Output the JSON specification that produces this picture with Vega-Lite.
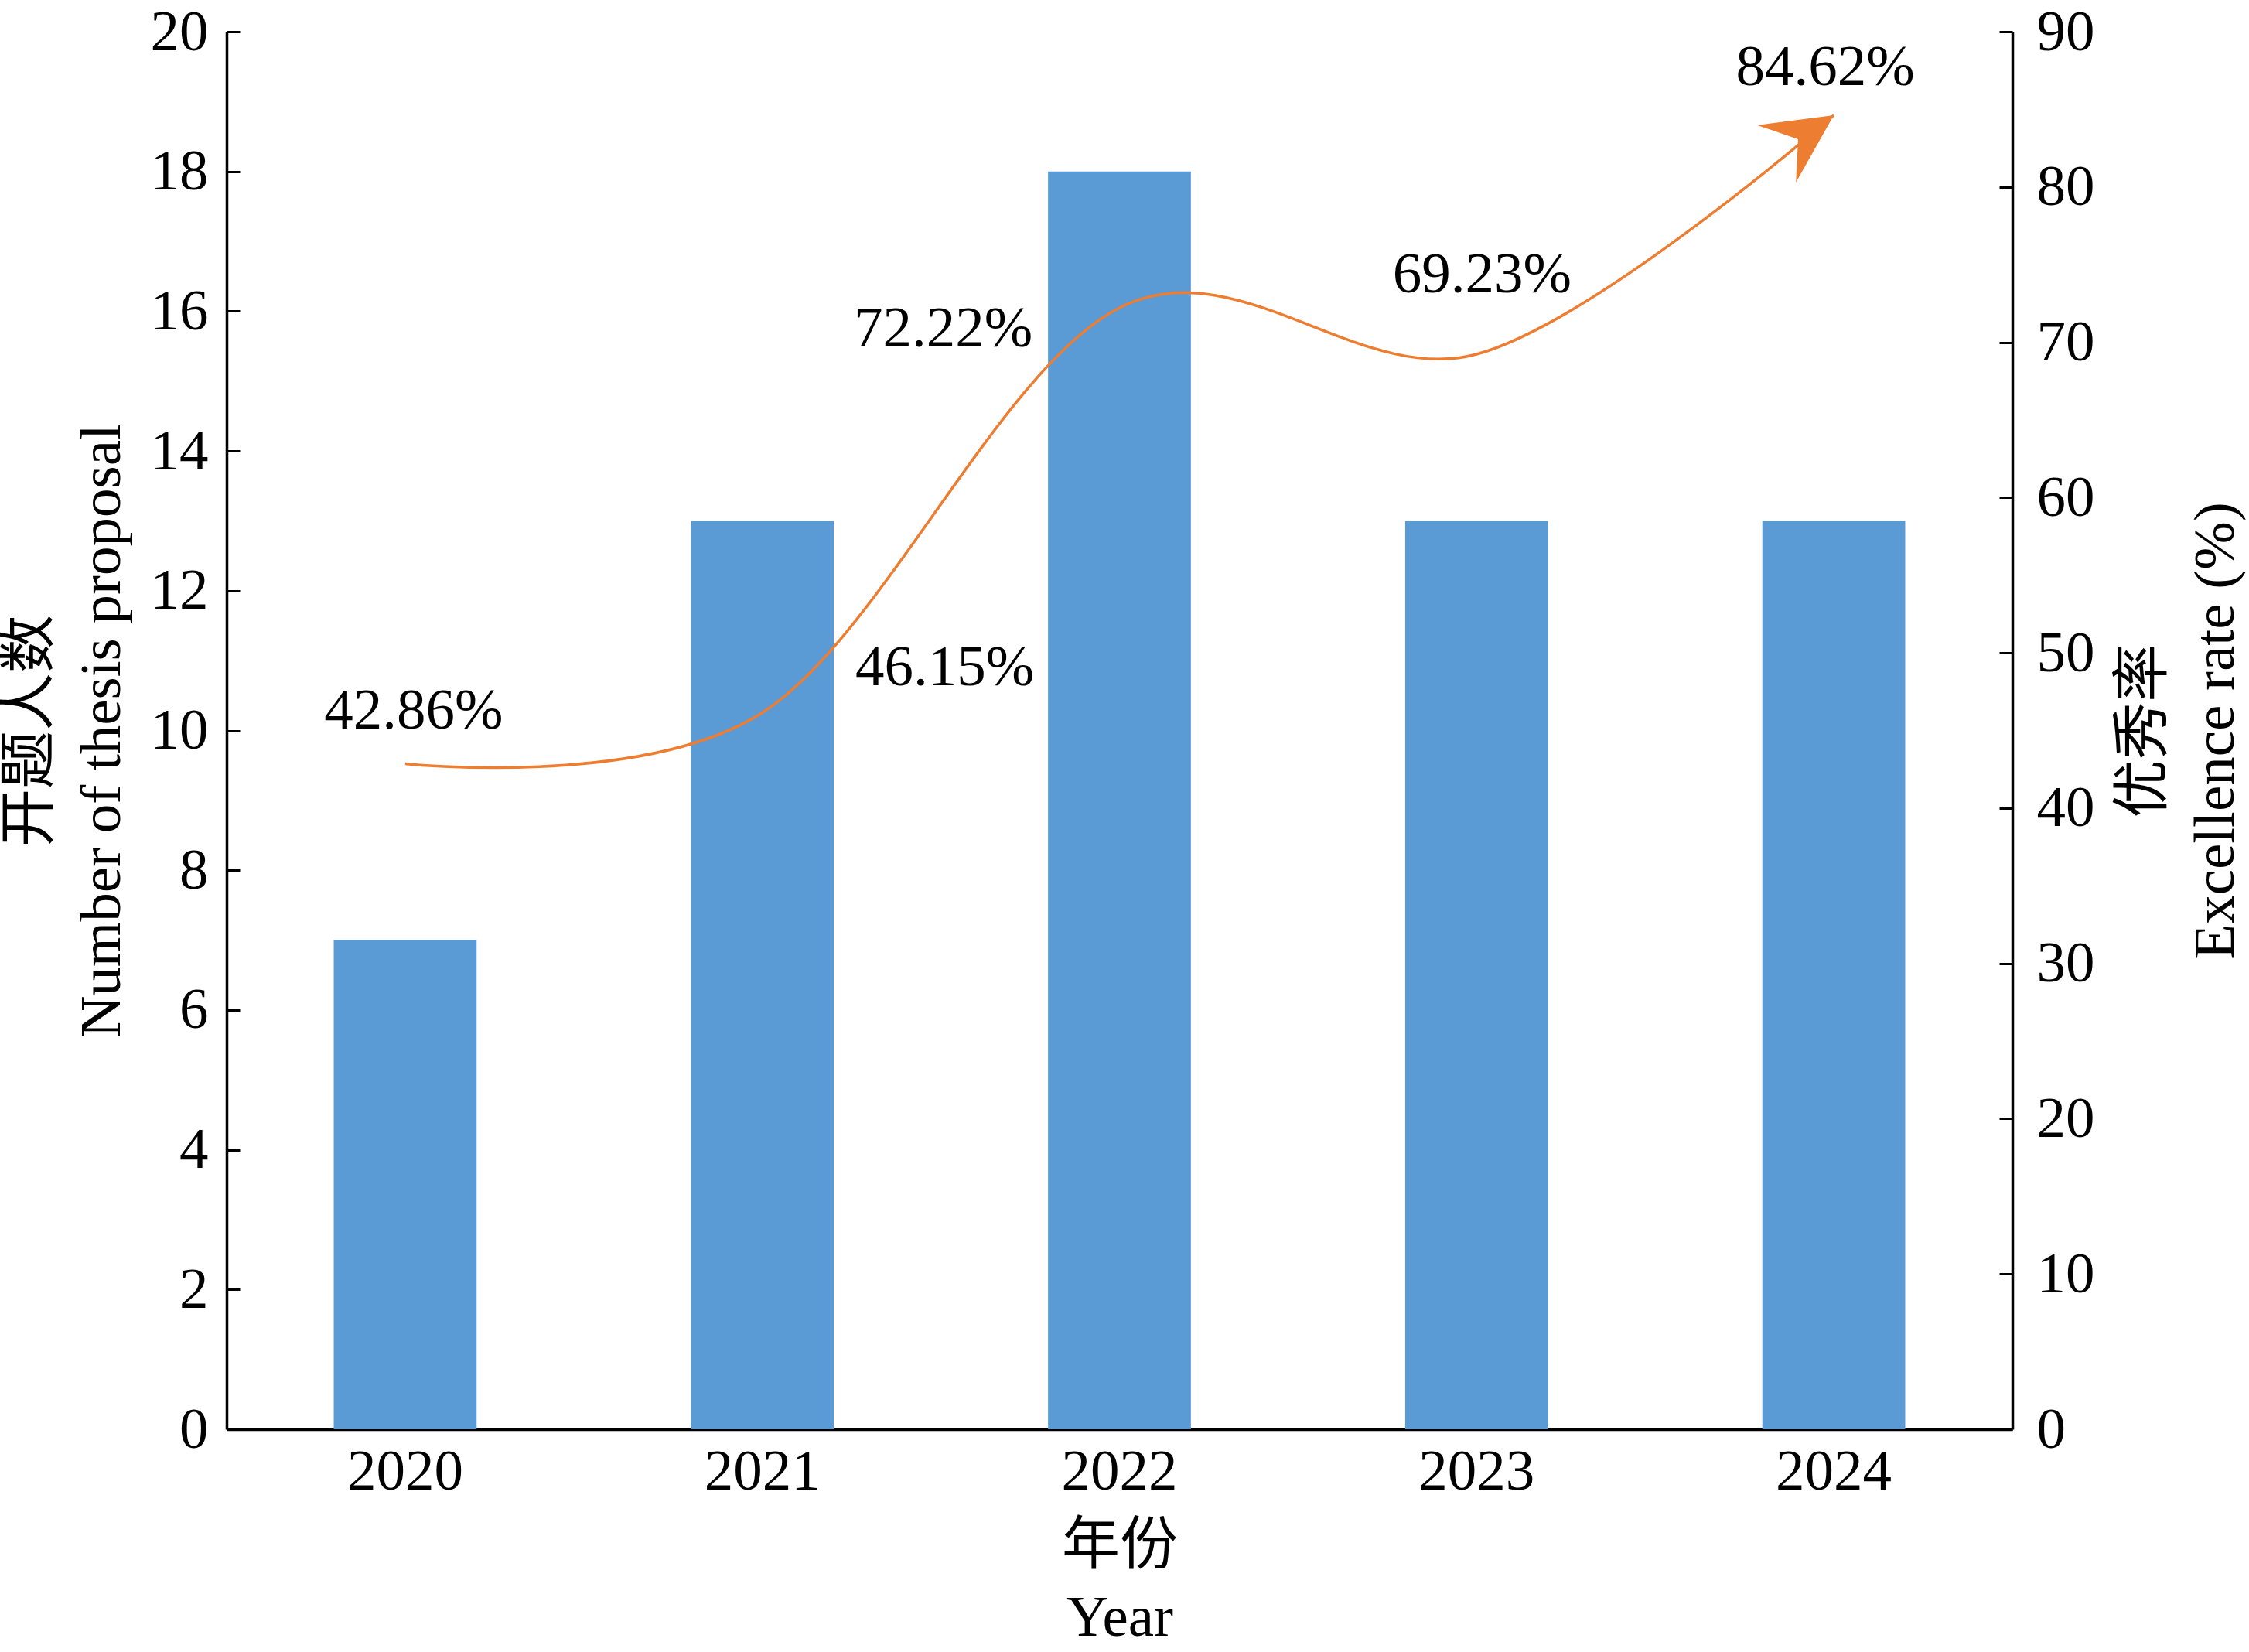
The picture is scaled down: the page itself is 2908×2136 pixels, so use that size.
{
  "$schema": "https://vega.github.io/schema/vega-lite/v6.json",
  "width": 2309,
  "height": 1807,
  "autosize": {"type": "none"},
  "padding": {"left": 293, "top": 41, "right": 306, "bottom": 288},
  "background": "white",
  "config": {
    "view": {"stroke": null},
    "font": "Liberation Serif",
    "axis": {
      "labelFont": "Liberation Serif",
      "labelFontSize": 75,
      "labelColor": "black",
      "titleFont": "Liberation Serif, Noto Sans CJK SC",
      "titleFontSize": 75,
      "titleFontWeight": "normal",
      "titleColor": "black",
      "titleLineHeight": 93,
      "domainColor": "black",
      "domainWidth": 3.5,
      "tickColor": "black",
      "tickWidth": 3,
      "grid": false
    }
  },
  "data": {
    "values": [
      {"year": "2020", "count": 7, "rate": 42.86, "label": "42.86%"},
      {"year": "2021", "count": 13, "rate": 46.15, "label": "46.15%"},
      {"year": "2022", "count": 18, "rate": 72.22, "label": "72.22%"},
      {"year": "2023", "count": 13, "rate": 69.23, "label": "69.23%"},
      {"year": "2024", "count": 13, "rate": 84.62, "label": "84.62%"}
    ]
  },
  "encoding": {
    "x": {
      "field": "year",
      "type": "nominal",
      "sort": null,
      "scale": {"paddingInner": 0.6, "paddingOuter": 0.3},
      "axis": {
        "orient": "bottom",
        "ticks": false,
        "labelAngle": 0,
        "labelPadding": 18,
        "title": ["年份", "Year"],
        "titleAngle": 0,
        "titleAlign": "center",
        "titleBaseline": "alphabetic",
        "titleX": 1154.5,
        "titleY": 173
      }
    }
  },
  "layer": [
    {
      "mark": {"type": "bar", "color": "#5B9BD5"},
      "encoding": {
        "y": {
          "field": "count",
          "type": "quantitative",
          "scale": {"domain": [0, 20], "nice": false},
          "axis": {
            "orient": "left",
            "values": [0, 2, 4, 6, 8, 10, 12, 14, 16, 18, 20],
            "tickSize": -17,
            "labelPadding": 41,
            "title": ["开题人数", "Number of thesis proposal"],
            "titleAngle": -90,
            "titleAlign": "center",
            "titleBaseline": "alphabetic",
            "titleX": -232,
            "titleY": 903.5
          }
        }
      }
    },
    {
      "encoding": {
        "y": {
          "field": "rate",
          "type": "quantitative",
          "scale": {"domain": [0, 90], "nice": false},
          "axis": {
            "orient": "right",
            "values": [0, 10, 20, 30, 40, 50, 60, 70, 80, 90],
            "tickSize": -17,
            "labelPadding": 48,
            "title": ["优秀率", "Excellence rate (%)"],
            "titleAngle": -90,
            "titleAlign": "center",
            "titleBaseline": "alphabetic",
            "titleX": 192,
            "titleY": 903.5
          }
        }
      },
      "layer": [
        {
          "mark": {"type": "line", "interpolate": "cardinal", "color": "#ED7D31", "strokeWidth": 3.5}
        },
        {
          "transform": [{"filter": "datum.year === '2024'"}],
          "mark": {
            "type": "point",
            "shape": "M0,0L-2,-1L-1.25,0L-2,1Z",
            "filled": true,
            "color": "#ED7D31",
            "opacity": 1,
            "size": 7921,
            "angle": -34,
            "strokeWidth": 0
          }
        },
        {
          "transform": [{"filter": "datum.year === '2020'"}],
          "mark": {"type": "text", "dx": 11, "dy": -45, "fontSize": 75, "font": "Liberation Serif", "align": "center", "baseline": "alphabetic", "color": "black"},
          "encoding": {"text": {"field": "label"}}
        },
        {
          "transform": [{"filter": "datum.year === '2021'"}],
          "mark": {"type": "text", "dx": 236, "dy": -35, "fontSize": 75, "font": "Liberation Serif", "align": "center", "baseline": "alphabetic", "color": "black"},
          "encoding": {"text": {"field": "label"}}
        },
        {
          "transform": [{"filter": "datum.year === '2022'"}],
          "mark": {"type": "text", "dx": -228, "dy": 50, "fontSize": 75, "font": "Liberation Serif", "align": "center", "baseline": "alphabetic", "color": "black"},
          "encoding": {"text": {"field": "label"}}
        },
        {
          "transform": [{"filter": "datum.year === '2023'"}],
          "mark": {"type": "text", "dx": 7, "dy": -80, "fontSize": 75, "font": "Liberation Serif", "align": "center", "baseline": "alphabetic", "color": "black"},
          "encoding": {"text": {"field": "label"}}
        },
        {
          "transform": [{"filter": "datum.year === '2024'"}],
          "mark": {"type": "text", "dx": -11, "dy": -39, "fontSize": 75, "font": "Liberation Serif", "align": "center", "baseline": "alphabetic", "color": "black"},
          "encoding": {"text": {"field": "label"}}
        }
      ]
    }
  ],
  "resolve": {"scale": {"y": "independent"}}
}
